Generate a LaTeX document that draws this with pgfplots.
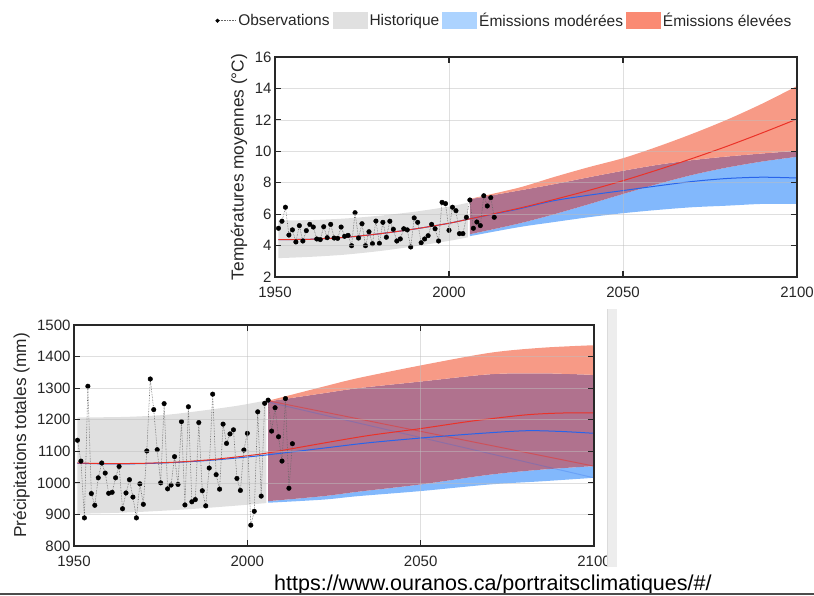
\documentclass[border=0pt]{standalone}
\usepackage{pgfplots}
\pgfplotsset{compat=1.18}
\usepackage{pgfplotstable}
\usepgfplotslibrary{fillbetween}
\usepackage{fontspec}
\setmainfont{Liberation Sans}

\definecolor{histgray}{RGB}{224,224,224}
\definecolor{bandblue}{RGB}{130,184,252}
\definecolor{bandred}{RGB}{247,154,134}
\definecolor{bandmix}{RGB}{176,114,142}
\definecolor{legblue}{RGB}{172,211,255}
\definecolor{legred}{RGB}{250,138,115}
\definecolor{meanred}{RGB}{235,50,40}
\definecolor{meanblue}{RGB}{40,100,235}
\definecolor{axisgray}{RGB}{40,40,40}

% ---------- temperature ----------
\pgfplotstableread{
year t
1951 5.10
1952 5.55
1953 6.44
1954 4.67
1955 5.00
1956 4.23
1957 5.27
1958 4.29
1959 4.95
1960 5.35
1961 5.18
1962 4.42
1963 4.38
1964 5.20
1965 4.50
1966 5.35
1967 4.48
1968 4.46
1969 5.18
1970 4.59
1971 4.65
1972 3.99
1973 6.09
1974 4.48
1975 5.39
1976 3.99
1977 4.88
1978 4.12
1979 5.56
1980 4.14
1981 5.48
1982 4.53
1983 5.55
1984 5.04
1985 4.29
1986 4.42
1987 5.07
1988 5.00
1989 3.91
1990 5.76
1991 5.48
1992 4.18
1993 4.42
1994 4.63
1995 5.35
1996 5.07
1997 4.29
1998 6.75
1999 6.67
2000 4.97
2001 6.44
2002 6.22
2003 4.76
2004 4.76
2005 5.80
2006 6.90
2007 5.10
2008 5.50
2009 5.27
2010 7.17
2011 6.52
2012 7.05
2013 5.80
}\tempobs

\pgfplotstableread{
year lo hi
1951 3.20 5.60
1960 3.28 5.62
1970 3.42 5.72
1980 3.65 5.90
1990 3.95 6.15
2000 4.30 6.48
2005.4 4.52 6.72
}\temphist

\pgfplotstableread{
year blo bhi rlo rhi
2006 4.60 6.95 4.72 6.97
2020 5.17 7.50 5.40 7.68
2030 5.49 7.90 5.98 8.35
2040 5.80 8.34 6.62 8.98
2050 6.06 8.76 7.28 9.56
2060 6.27 9.14 7.92 10.30
2070 6.44 9.44 8.50 11.12
2080 6.54 9.67 8.97 12.02
2090 6.65 9.86 9.35 13.03
2100 6.65 10.03 9.65 14.15
}\tempproj

\pgfplotstableread{
year blue red
1951 4.38 4.38
1960 4.40 4.40
1970 4.52 4.52
1980 4.75 4.75
1990 5.05 5.05
2000 5.42 5.42
2006 5.70 5.70
2020 6.33 6.37
2030 6.85 6.92
2040 7.20 7.50
2050 7.50 8.13
2060 7.80 8.82
2070 8.08 9.55
2080 8.27 10.33
2090 8.35 11.17
2100 8.30 12.05
}\tempmean

% ---------- precipitation ----------
\pgfplotstableread{
year p
1951 1135
1952 1069
1953 889
1954 1306
1955 966
1956 929
1957 1016
1958 1063
1959 1031
1960 967
1961 970
1962 1016
1963 1052
1964 918
1965 968
1966 1010
1967 955
1968 889
1969 997
1970 932
1971 1101
1972 1329
1973 1232
1974 1105
1975 1000
1976 1251
1977 981
1978 993
1979 1083
1980 995
1981 1194
1982 930
1983 1241
1984 940
1985 947
1986 1191
1987 975
1988 927
1989 1047
1990 1281
1991 1026
1992 980
1993 1186
1994 1125
1995 1155
1996 1168
1997 1014
1998 976
1999 1104
2000 1157
2001 866
2002 910
2003 1225
2004 958
2005 1252
2006 1262
2007 1164
2008 1238
2009 1146
2010 1069
2011 1267
2012 983
2013 1124
}\precobs

\pgfplotstableread{
year lo hi
1951 902 1207
1965 906 1209
1976 912 1215
1985 918 1226
1997 928 1244
2005.5 936 1261
}\prechist

\pgfplotstableread{
year blo bhi rlo rhi
2006 937 1258 942 1260
2022 947 1284 958 1305
2032 958 1300 972 1332
2050 974 1321 995 1372
2070 995 1344 1026 1412
2085 1005 1347 1042 1428
2100 1016 1342 1053 1436
}\precproj

\pgfplotstableread{
year blue red
1951 1062 1063
1960 1060 1061
1970 1061 1062
1980 1065 1066
1990 1072 1074
2000 1082 1086
2006 1089 1095
2022 1110 1126
2035 1127 1150
2050 1142 1172
2065 1155 1196
2080 1165 1215
2090 1163 1221
2100 1157 1222
}\precmean

\pgfplotsset{
  ouranos/.style={
    scale only axis,
    xmin=1950, xmax=2100,
    xtick={1950,2000,2050,2100},
    axis on top,
    grid=major,
    major grid style={black!25, opacity=0.5, line width=0.6pt},
    axis line style={axisgray, line width=1.3pt},
    tick align=inside,
    major tick length=6pt,
    tick style={axisgray, line width=1.1pt},
    ticklabel style={font=\fontsize{15}{18}\selectfont, text=black!85},
    /pgf/number format/assume math mode=true,
    /pgf/number format/1000 sep={},
    xticklabel style={yshift=-6pt},
    label style={font=\fontsize{17.3}{20}\selectfont, text=black!85},
  },
  obsline/.style={densely dotted, black!60, line width=0.6pt, forget plot},
  obsmark/.style={only marks, mark=*, mark size=2.3pt, black, forget plot},
}

\begin{document}
\begin{tikzpicture}[x=1pt, y=1pt]

% temperature, top right
\begin{axis}[ouranos,
    at={(275pt,318pt)}, anchor=south west,
    width=522pt, height=220pt,
    ymin=2, ymax=16, ytick={2,4,...,16},
    ylabel={Températures moyennes (°C)},
    ylabel style={at={(axis description cs:-0.069,0.5)}, anchor=center},
    legend columns=-1,
    legend style={draw=none, fill=none,
      at={(axis description cs:1.0,1.165)}, anchor=east,
      font=\fontsize{15.5}{18}\selectfont,
      /tikz/every even column/.append style={column sep=0.5pt},
      nodes={inner sep=2.5pt, text=black!85}},
  ]
  \addlegendimage{legend image code/.code={
      \draw[densely dotted, black!60, line width=0.6pt] (0pt,0pt) -- (18pt,0pt);
      \fill[black] (0pt,0pt) circle (1.8pt);}}
  \addlegendentry{Observations}
  \addlegendimage{legend image code/.code={\fill[histgray] (0pt,-8pt) rectangle (34pt,8pt);}}
  \addlegendentry{Historique}
  \addlegendimage{legend image code/.code={\fill[legblue] (0pt,-8pt) rectangle (34pt,8pt);}}
  \addlegendentry{Émissions modérées}
  \addlegendimage{legend image code/.code={\fill[legred] (0pt,-8pt) rectangle (34pt,8pt);}}
  \addlegendentry{Émissions élevées}

  \addplot[name path=hlo, draw=none, smooth, forget plot] table[x=year, y=lo] {\temphist};
  \addplot[name path=hhi, draw=none, smooth, forget plot] table[x=year, y=hi] {\temphist};
  \addplot[histgray, forget plot] fill between[of=hlo and hhi];

  \addplot[name path=blo, draw=none, smooth, forget plot] table[x=year, y=blo] {\tempproj};
  \addplot[name path=bhi, draw=none, smooth, forget plot] table[x=year, y=bhi] {\tempproj};
  \addplot[name path=rlo, draw=none, smooth, forget plot] table[x=year, y=rlo] {\tempproj};
  \addplot[name path=rhi, draw=none, smooth, forget plot] table[x=year, y=rhi] {\tempproj};
  \addplot[bandblue, forget plot] fill between[of=blo and rlo];
  \addplot[bandmix, forget plot] fill between[of=rlo and bhi];
  \addplot[bandred, forget plot] fill between[of=bhi and rhi];

  \addplot[meanblue, line width=1pt, smooth, forget plot] table[x=year, y=blue] {\tempmean};
  \addplot[meanred, line width=1pt, smooth, forget plot] table[x=year, y=red] {\tempmean};

  \addplot[obsline] table[x=year, y=t] {\tempobs};
  \addplot[obsmark] table[x=year, y=t] {\tempobs};
\end{axis}

% precipitation, bottom left
\begin{axis}[ouranos,
    at={(74pt,49pt)}, anchor=south west,
    width=520pt, height=221pt,
    ymin=800, ymax=1500, ytick={800,900,...,1500},
    ylabel={Précipitations totales (mm)},
    ylabel style={at={(axis description cs:-0.1008,0.5)}, anchor=center},
  ]
  \addplot[name path=hlo, draw=none, smooth, forget plot] table[x=year, y=lo] {\prechist};
  \addplot[name path=hhi, draw=none, smooth, forget plot] table[x=year, y=hi] {\prechist};
  \addplot[histgray, forget plot] fill between[of=hlo and hhi];

  \addplot[name path=blo, draw=none, smooth, forget plot] table[x=year, y=blo] {\precproj};
  \addplot[name path=bhi, draw=none, smooth, forget plot] table[x=year, y=bhi] {\precproj};
  \addplot[name path=rlo, draw=none, smooth, forget plot] table[x=year, y=rlo] {\precproj};
  \addplot[name path=rhi, draw=none, smooth, forget plot] table[x=year, y=rhi] {\precproj};
  \addplot[bandblue, forget plot] fill between[of=blo and rlo];
  \addplot[bandmix, forget plot] fill between[of=rlo and bhi];
  \addplot[bandred, forget plot] fill between[of=bhi and rhi];

  % straight seams left by the original rendering of the bands
  \addplot[meanred, opacity=0.5, line width=1pt, forget plot] coordinates {(2006,1260) (2100,1053)};
  \addplot[meanblue, opacity=0.25, line width=1pt, forget plot] coordinates {(2006,1256) (2100,1016)};

  \addplot[meanblue, line width=1pt, smooth, forget plot] table[x=year, y=blue] {\precmean};
  \addplot[meanred, line width=1pt, smooth, forget plot] table[x=year, y=red] {\precmean};

  \addplot[obsline] table[x=year, y=p] {\precobs};
  \addplot[obsmark] table[x=year, y=p] {\precobs};
\end{axis}

% page furniture
\fill[black!7] (607,28) rectangle (617,286);
\draw[black!14, line width=0.8pt] (607,28) -- (607,286);
\node[anchor=base west, inner sep=0pt, font=\fontsize{21.5}{24}\selectfont]
  at (274,5) {https://www.ouranos.ca/portraitsclimatiques/\#/};
\draw[black!70, line width=1.2pt] (0,1) -- (814,1);

\pgfresetboundingbox
\useasboundingbox (0,0) rectangle (814,595);
\end{tikzpicture}
\end{document}
